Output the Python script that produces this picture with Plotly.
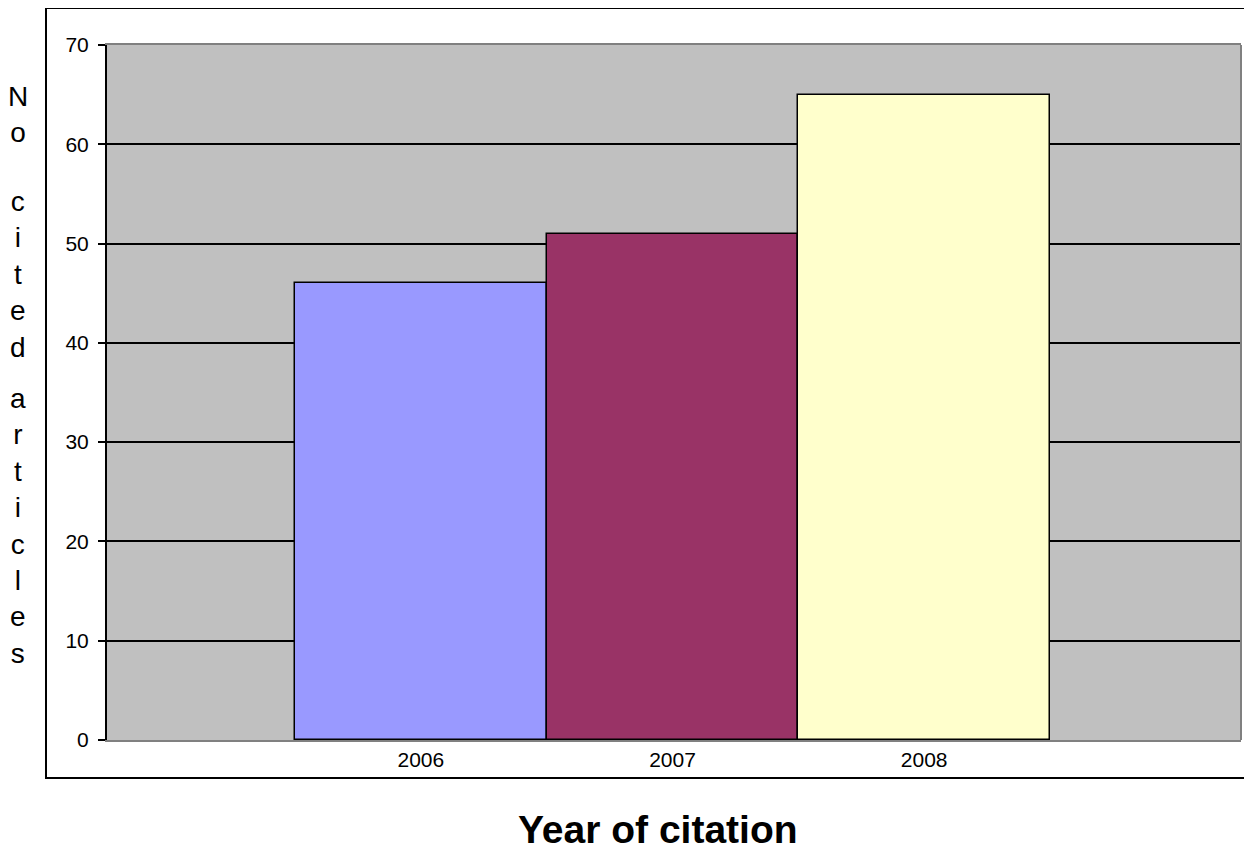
import plotly.graph_objects as go

years = ["2006", "2007", "2008"]
cited_articles = [46, 51, 65]
bar_colors = ["#9999FF", "#993366", "#FFFFCC"]
y_ticks = [0, 10, 20, 30, 40, 50, 60, 70]
y_title_words = ["No", "cited", "articles"]
x_title = "Year of citation"

OFF = 8  # page body margin in the browser
W, H = 1252 - OFF, 854 - OFF
L, R, T, B = 107 - OFF, 1241 - OFF, 45 - OFF, 740 - OFF  # plot area in figure pixels


def px_x(px):
    return (px - OFF - L) / (R - L)


def px_y(py):
    return (B - (py - OFF)) / (B - T)


fig = go.Figure(
    go.Bar(
        x=years,
        y=cited_articles,
        marker=dict(color=bar_colors, line=dict(color="#000000", width=1.5)),
        width=1.0,
        hoverinfo="x+y",
    )
)

fig.update_layout(
    width=W,
    height=H,
    margin=dict(l=L, r=W - R, t=T, b=H - B, pad=0),
    paper_bgcolor="#FFFFFF",
    plot_bgcolor="#C0C0C0",
    bargap=0,
    showlegend=False,
    font=dict(family="Liberation Sans, Arial, sans-serif", color="#000000"),
)

fig.update_xaxes(
    type="category",
    range=[-1.247, 3.259],
    showgrid=False,
    showline=True,
    mirror=True,
    linecolor="#808080",
    linewidth=2,
    ticks="",
    tickfont=dict(size=21, family="Liberation Sans, Arial, sans-serif"),
    fixedrange=True,
)

fig.update_yaxes(
    range=[0, 70],
    tickvals=y_ticks,
    showgrid=True,
    gridcolor="#000000",
    gridwidth=2,
    showline=True,
    linecolor="#000000",
    linewidth=2,
    ticks="outside",
    ticklen=7,
    tickwidth=2,
    tickcolor="#000000",
    ticklabelstandoff=5,
    tickfont=dict(size=21, family="Liberation Sans, Arial, sans-serif"),
    zeroline=False,
    fixedrange=True,
)

# right border of plot area (gray)
fig.add_shape(type="line", xref="paper", yref="paper", x0=1, x1=1, y0=0, y1=1,
              line=dict(color="#808080", width=2))
# outer chart border
fig.add_shape(type="rect", xref="paper", yref="paper",
              x0=px_x(46), x1=px_x(1251), y0=px_y(778), y1=px_y(8),
              line=dict(color="#000000", width=2), fillcolor="rgba(0,0,0,0)")

# vertical stacked y-axis title
word_centers = [114, 274, 526]
for word, cy in zip(y_title_words, word_centers):
    fig.add_annotation(
        text="<br>".join(list(word)),
        xref="paper", yref="paper",
        x=px_x(18), y=px_y(cy),
        xanchor="center", yanchor="middle",
        showarrow=False,
        font=dict(size=28, family="Liberation Sans, Arial, sans-serif", color="#000000"),
    )

fig.add_annotation(
    text="<b>" + x_title + "</b>",
    xref="paper", yref="paper",
    x=px_x(658), y=px_y(829),
    xanchor="center", yanchor="middle",
    showarrow=False,
    font=dict(size=39, family="Liberation Sans, Arial, sans-serif", color="#000000"),
)

fig.write_html("out.html")
